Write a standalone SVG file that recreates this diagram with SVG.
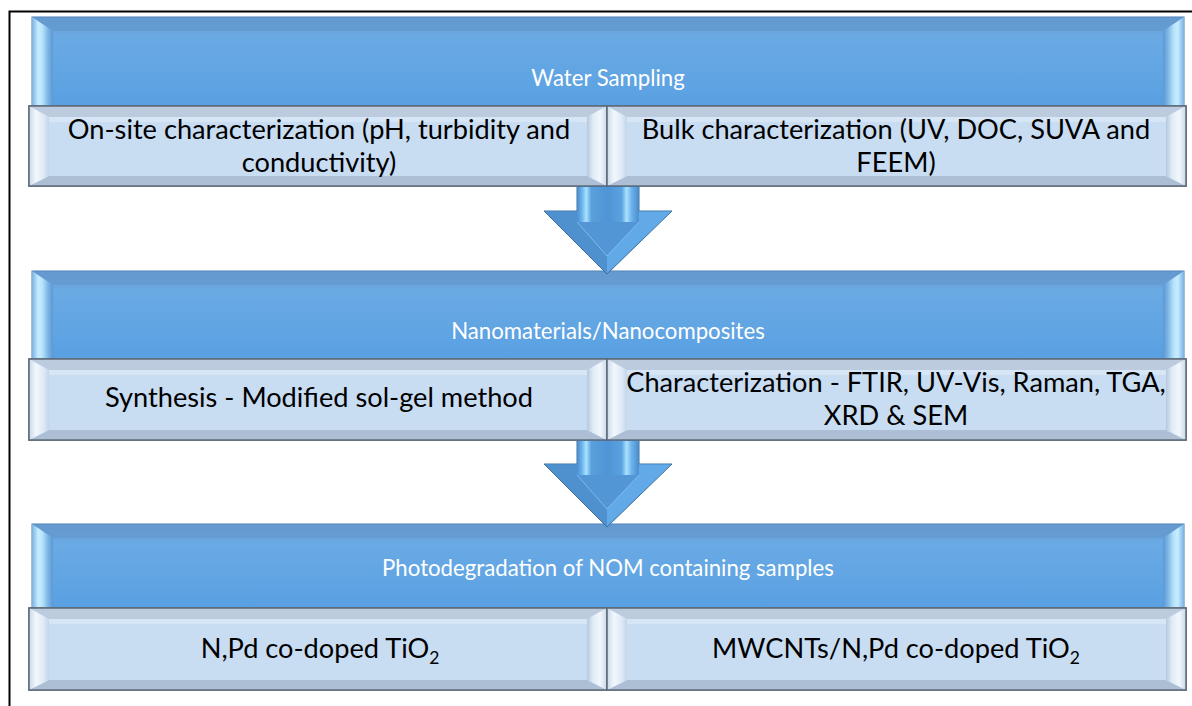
<svg xmlns="http://www.w3.org/2000/svg" width="1192" height="706" viewBox="0 0 1192 706">
<style>
.bt{font-family:Lato,"Liberation Sans",sans-serif;font-size:22.2px;fill:#ffffff;text-anchor:middle}
.st{font-family:Lato,"Liberation Sans",sans-serif;font-size:27.2px;fill:#000000;text-anchor:middle}
.bn{fill:url(#bannerFill);stroke:#4a7db3;stroke-width:1}
.btop{fill:#5f95ca;opacity:0.55}
.sb{fill:#c8dcf2;stroke:#5f6b78;stroke-width:1.5}
.stop{fill:#bccbdd}
.sbot{fill:#adbfd4}
.sband{fill:#d6e6f7}
</style>
<defs>
<linearGradient id="bannerFill" x1="0" y1="0" x2="0" y2="1">
<stop offset="0" stop-color="#6a9fd4"/>
<stop offset="0.15" stop-color="#6aa4dc"/>
<stop offset="0.22" stop-color="#6aaae4"/>
<stop offset="1" stop-color="#59a0e2"/>
</linearGradient>
<linearGradient id="bevL" x1="0" y1="0" x2="1" y2="0">
<stop offset="0" stop-color="#7ab2e2"/>
<stop offset="0.3" stop-color="#c9ecff"/>
<stop offset="0.5" stop-color="#b5e2fb"/>
<stop offset="0.75" stop-color="#7fb8e6"/>
<stop offset="1" stop-color="#5b97d2"/>
</linearGradient>
<linearGradient id="bevR" x1="1" y1="0" x2="0" y2="0">
<stop offset="0" stop-color="#7ab2e2"/>
<stop offset="0.3" stop-color="#c9ecff"/>
<stop offset="0.5" stop-color="#b5e2fb"/>
<stop offset="0.75" stop-color="#7fb8e6"/>
<stop offset="1" stop-color="#5b97d2"/>
</linearGradient>
<linearGradient id="sbevL" x1="0" y1="0" x2="1" y2="0">
<stop offset="0" stop-color="#c9d8ea"/>
<stop offset="0.35" stop-color="#f2f7fc"/>
<stop offset="0.7" stop-color="#e0ebf7"/>
<stop offset="1" stop-color="#c4d5e8"/>
</linearGradient>
<linearGradient id="sbevR" x1="1" y1="0" x2="0" y2="0">
<stop offset="0" stop-color="#c9d8ea"/>
<stop offset="0.35" stop-color="#f2f7fc"/>
<stop offset="0.7" stop-color="#e0ebf7"/>
<stop offset="1" stop-color="#b7c8dc"/>
</linearGradient>
<linearGradient id="shaft" gradientUnits="userSpaceOnUse" x1="577" y1="0" x2="639" y2="0">
<stop offset="0" stop-color="#4a8ccc"/>
<stop offset="0.08" stop-color="#6cb4ee"/>
<stop offset="0.15" stop-color="#a8e2ff"/>
<stop offset="0.23" stop-color="#5aa0dc"/>
<stop offset="0.5" stop-color="#4f95d6"/>
<stop offset="0.72" stop-color="#5aa2e0"/>
<stop offset="0.8" stop-color="#a8e2ff"/>
<stop offset="0.88" stop-color="#6cb2ec"/>
<stop offset="1" stop-color="#4a8ccc"/>
</linearGradient>
</defs>

<rect x="0" y="0" width="1192" height="706" fill="#ffffff"/>
<path d="M9.5 706 V11.5 H1192" fill="none" stroke="#000000" stroke-width="2"/>

<!-- Row 1 -->
<g id="banner1">
<rect class="bn" x="32" y="17" width="1152" height="90"/>
<polygon class="btop" points="32,17 1184,17 1163,31 53,31"/>
<polygon points="32,17 53,31 53,107 32,107" fill="url(#bevL)"/>
<polygon points="1184,17 1163,31 1163,107 1184,107" fill="url(#bevR)"/>
<text class="bt" x="608" y="86">Water Sampling</text>
</g>
<g id="box1L">
<rect class="sb" x="29" y="106" width="578" height="80"/>
<rect class="sband" x="49" y="117" width="538" height="5"/>
<polygon class="stop" points="29,106 607,106 587,117 49,117"/>
<polygon class="sbot" points="29,186 607,186 587,176 49,176"/>
<polygon points="29,106 49,117 49,176 29,186" fill="url(#sbevL)"/>
<polygon points="607,106 587,117 587,176 607,186" fill="url(#sbevR)"/>
<rect x="29" y="106" width="578" height="80" fill="none" stroke="#5f6b78" stroke-width="1.5"/>
<text class="st" x="319" y="139">On-site characterization (pH, turbidity and</text>
<text class="st" x="319" y="172">conductivity)</text>
</g>
<g id="box1R">
<rect class="sb" x="607" y="106" width="579" height="80"/>
<rect class="sband" x="627" y="117" width="539" height="5"/>
<polygon class="stop" points="607,106 1186,106 1166,117 627,117"/>
<polygon class="sbot" points="607,186 1186,186 1166,176 627,176"/>
<polygon points="607,106 627,117 627,176 607,186" fill="url(#sbevL)"/>
<polygon points="1186,106 1166,117 1166,176 1186,186" fill="url(#sbevR)"/>
<rect x="607" y="106" width="579" height="80" fill="none" stroke="#5f6b78" stroke-width="1.5"/>
<text class="st" x="896" y="139">Bulk characterization (UV, DOC, SUVA and</text>
<text class="st" x="896" y="172">FEEM)</text>
</g>

<!-- Row 2 -->
<g id="banner2">
<rect class="bn" x="32" y="271" width="1152" height="89"/>
<polygon class="btop" points="32,271 1184,271 1163,285 53,285"/>
<polygon points="32,271 53,285 53,360 32,360" fill="url(#bevL)"/>
<polygon points="1184,271 1163,285 1163,360 1184,360" fill="url(#bevR)"/>
<text class="bt" x="608" y="339">Nanomaterials/Nanocomposites</text>
</g>
<g id="box2L">
<rect class="sb" x="29" y="359" width="578" height="81"/>
<rect class="sband" x="49" y="370" width="538" height="5"/>
<polygon class="stop" points="29,359 607,359 587,370 49,370"/>
<polygon class="sbot" points="29,440 607,440 587,430 49,430"/>
<polygon points="29,359 49,370 49,430 29,440" fill="url(#sbevL)"/>
<polygon points="607,359 587,370 587,430 607,440" fill="url(#sbevR)"/>
<rect x="29" y="359" width="578" height="81" fill="none" stroke="#5f6b78" stroke-width="1.5"/>
<text class="st" x="319" y="407">Synthesis - Modified sol-gel method</text>
</g>
<g id="box2R">
<rect class="sb" x="607" y="359" width="579" height="81"/>
<rect class="sband" x="627" y="370" width="539" height="5"/>
<polygon class="stop" points="607,359 1186,359 1166,370 627,370"/>
<polygon class="sbot" points="607,440 1186,440 1166,430 627,430"/>
<polygon points="607,359 627,370 627,430 607,440" fill="url(#sbevL)"/>
<polygon points="1186,359 1166,370 1166,430 1186,440" fill="url(#sbevR)"/>
<rect x="607" y="359" width="579" height="81" fill="none" stroke="#5f6b78" stroke-width="1.5"/>
<text class="st" x="896" y="392">Characterization - FTIR, UV-Vis, Raman, TGA,</text>
<text class="st" x="896" y="425">XRD &amp; SEM</text>
</g>

<!-- Row 3 -->
<g id="banner3">
<rect class="bn" x="32" y="524" width="1152" height="85"/>
<polygon class="btop" points="32,524 1184,524 1163,538 53,538"/>
<polygon points="32,524 53,538 53,609 32,609" fill="url(#bevL)"/>
<polygon points="1184,524 1163,538 1163,609 1184,609" fill="url(#bevR)"/>
<text class="bt" x="608" y="576">Photodegradation of NOM containing samples</text>
</g>
<g id="box3L">
<rect class="sb" x="29" y="608" width="578" height="82"/>
<rect class="sband" x="49" y="619" width="538" height="5"/>
<polygon class="stop" points="29,608 607,608 587,619 49,619"/>
<polygon class="sbot" points="29,690 607,690 587,680 49,680"/>
<polygon points="29,608 49,619 49,680 29,690" fill="url(#sbevL)"/>
<polygon points="607,608 587,619 587,680 607,690" fill="url(#sbevR)"/>
<rect x="29" y="608" width="578" height="82" fill="none" stroke="#5f6b78" stroke-width="1.5"/>
<text class="st" x="320" y="658">N,Pd co-doped TiO<tspan font-size="17.5" dy="6">2</tspan></text>
</g>
<g id="box3R">
<rect class="sb" x="607" y="608" width="579" height="82"/>
<rect class="sband" x="627" y="619" width="539" height="5"/>
<polygon class="stop" points="607,608 1186,608 1166,619 627,619"/>
<polygon class="sbot" points="607,690 1186,690 1166,680 627,680"/>
<polygon points="607,608 627,619 627,680 607,690" fill="url(#sbevL)"/>
<polygon points="1186,608 1166,619 1166,680 1186,690" fill="url(#sbevR)"/>
<rect x="607" y="608" width="579" height="82" fill="none" stroke="#5f6b78" stroke-width="1.5"/>
<text class="st" x="896" y="658">MWCNTs/N,Pd co-doped TiO<tspan font-size="17.5" dy="6">2</tspan></text>
</g>

<!-- Connectors -->
<g id="connectors">
<g id="arrow1">
<polygon points="577,187 639,187 639,211 672,211 607,274 544,211 577,211" fill="#5598d6" stroke="#3f6f9e" stroke-width="1"/>
<polygon points="545,211.5 577,211.5 577,222 607,256 607,273" fill="#4f90cf"/>
<polygon points="671,211.5 639,211.5 639,222 607,256 607,273" fill="#62a9e8"/>
<rect x="577.5" y="187" width="61" height="35" fill="url(#shaft)"/>
<polygon points="577.5,222 638.5,222 607,256" fill="#5296d6"/>
<polyline points="577,222 607,256 639,222" fill="none" stroke="#8fcbf2" stroke-width="1" opacity="0.7"/>
</g>
<g id="arrow2">
<polygon points="577,441 639,441 639,464 672,464 607,527 544,464 577,464" fill="#5598d6" stroke="#3f6f9e" stroke-width="1"/>
<polygon points="545,464.5 577,464.5 577,475 607,509 607,526" fill="#4f90cf"/>
<polygon points="671,464.5 639,464.5 639,475 607,509 607,526" fill="#62a9e8"/>
<rect x="577.5" y="441" width="61" height="34" fill="url(#shaft)"/>
<polygon points="577.5,475 638.5,475 607,509" fill="#5296d6"/>
<polyline points="577,475 607,509 639,475" fill="none" stroke="#8fcbf2" stroke-width="1" opacity="0.7"/>
</g>
</g>
</svg>
